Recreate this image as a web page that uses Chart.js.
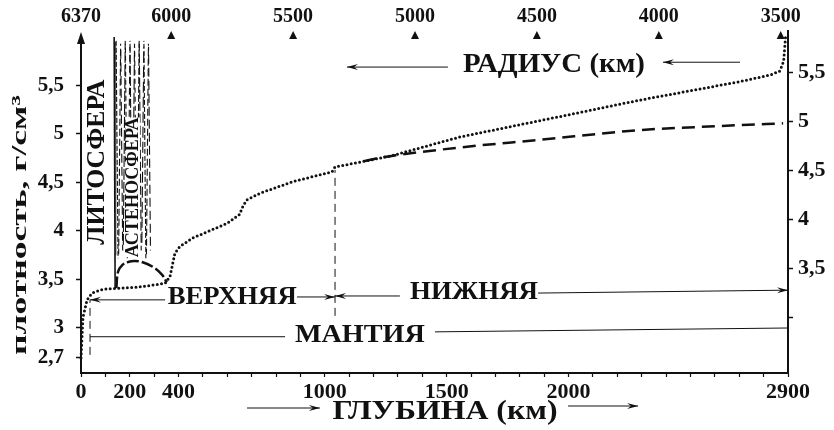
<!DOCTYPE html>
<html>
<head>
<meta charset="utf-8">
<script src="https://cdn.jsdelivr.net/npm/chart.js@4.4.1/dist/chart.umd.min.js"></script>
<style>
html, body { margin: 0; padding: 0; background: #fff; }
#wrap { width: 834px; height: 430px; }
</style>
</head>
<body>
<div id="wrap"><canvas id="densityChart"></canvas></div>
<script>
// плотность по глубине (точечная кривая)
var depthKm = [0, 8, 25, 45, 90, 148, 230, 345, 365, 385, 405, 460, 600, 650, 665, 680, 735, 870, 1030, 1042, 1145, 1280, 1555, 1965, 2293, 2703, 2830, 2867, 2882, 2890];
var densityMain = [2.69, 3.11, 3.29, 3.36, 3.40, 3.41, 3.42, 3.46, 3.53, 3.77, 3.84, 3.93, 4.08, 4.17, 4.26, 4.32, 4.39, 4.51, 4.61, 4.66, 4.71, 4.78, 4.97, 5.18, 5.35, 5.54, 5.61, 5.65, 5.75, 6.0];
// нижняя мантия, штриховая кривая
var depthLower = [1160, 1240, 1550, 1883, 2293, 2600, 2880];
var densityLower = [4.72, 4.76, 4.86, 4.94, 5.04, 5.08, 5.11];
// астеносфера (купол)
var depthAsth = [145, 152, 170, 193, 220, 250, 295, 332, 352];
var densityAsth = [3.41, 3.58, 3.65, 3.68, 3.69, 3.68, 3.63, 3.55, 3.47];

var depthTickLabels = [0, 200, 400, 1000, 1500, 2000, 2900];
var radiusTicks = [6370, 6000, 5500, 5000, 4500, 4000, 3500];
var densityTicksLeft = [2.7, 3, 3.5, 4, 4.5, 5, 5.5];
var densityTicksRight = [3, 3.5, 4, 4.5, 5, 5.5];

var EARTH_R = 6370;
var SERIF = '"Liberation Serif", "DejaVu Serif", serif';
var INK = '#111';

function pts(xs, ys) {
    return xs.map(function(x, i) { return { x: x, y: ys[i] }; });
}

function fitText(ctx, text, cx, cy, len, size, rot) {
    ctx.save();
    ctx.font = 'bold ' + size + 'px ' + SERIF;
    var w = ctx.measureText(text).width;
    ctx.translate(cx, cy);
    if (rot) ctx.rotate(-Math.PI / 2);
    ctx.scale(len / w, 1);
    ctx.textAlign = 'center';
    ctx.textBaseline = 'middle';
    ctx.fillStyle = INK;
    ctx.fillText(text, 0, 0);
    ctx.restore();
}

function arrow(ctx, x1, y1, x2, y2, head) {
    ctx.beginPath();
    ctx.moveTo(x1, y1);
    ctx.lineTo(x2, y2);
    ctx.stroke();
    if (!head) return;
    var a = Math.atan2(y2 - y1, x2 - x1);
    ctx.beginPath();
    ctx.moveTo(x2, y2);
    ctx.lineTo(x2 - 11 * Math.cos(a) + 3 * Math.sin(a), y2 - 11 * Math.sin(a) - 3 * Math.cos(a));
    ctx.lineTo(x2 - 7 * Math.cos(a), y2 - 7 * Math.sin(a));
    ctx.lineTo(x2 - 11 * Math.cos(a) - 3 * Math.sin(a), y2 - 11 * Math.sin(a) + 3 * Math.cos(a));
    ctx.closePath();
    ctx.fill();
}

var annotations = {
    id: 'annotations',
    afterDraw: function(chart) {
        var ctx = chart.ctx;
        var xs = chart.scales.x, ys = chart.scales.y, ca = chart.chartArea;
        var X = function(v) { return xs.getPixelForValue(v); };
        var Y = function(v) { return ys.getPixelForValue(v); };
        ctx.save();
        ctx.strokeStyle = INK;
        ctx.fillStyle = INK;

        // стрелка оси Y и продолжение правой оси
        ctx.beginPath();
        ctx.moveTo(ca.left, ca.top - 5);
        ctx.lineTo(ca.left - 4, ca.top + 7);
        ctx.lineTo(ca.left + 4, ca.top + 7);
        ctx.closePath();
        ctx.fill();
        ctx.lineWidth = 2;
        ctx.beginPath();
        ctx.moveTo(ca.right, ca.top);
        ctx.lineTo(ca.right, ca.top - 7);
        ctx.stroke();

        // треугольники радиуса
        radiusTicks.forEach(function(r) {
            if (r === EARTH_R) return;
            var px = X(EARTH_R - r);
            ctx.beginPath();
            ctx.moveTo(px, ca.top - 6);
            ctx.lineTo(px - 4, ca.top + 2);
            ctx.lineTo(px + 4, ca.top + 2);
            ctx.closePath();
            ctx.fill();
        });

        // литосфера
        ctx.lineWidth = 1.6;
        ctx.beginPath();
        ctx.moveTo(X(136), Y(6.0));
        ctx.lineTo(X(140), Y(3.41));
        ctx.stroke();
        ctx.lineWidth = 0.8;
        ctx.beginPath();
        ctx.moveTo(X(142), Y(5.95));
        ctx.lineTo(X(143), Y(3.75));
        ctx.stroke();

        // штриховка астеносферы
        ctx.lineWidth = 1.1;
        for (var i = 0; i < 15; i++) {
            var d = 148 + i * 9.5;
            ctx.setLineDash([5 + (i % 4) * 2, 2 + (i % 3)]);
            ctx.lineDashOffset = i * 5;
            ctx.beginPath();
            ctx.moveTo(X(d + (i % 2 ? 5 : -4)), Y(5.96 - (i % 3) * 0.03));
            ctx.lineTo(X(d + (i % 2 ? -3 : 4)), Y(3.72 + (i % 4) * 0.04));
            ctx.stroke();
        }
        ctx.setLineDash([]);
        // просвет под надписью
        ctx.fillStyle = '#fff';
        ctx.fillRect(X(213) - 7, Y(5.17), 14, Y(3.73) - Y(5.17));
        ctx.fillStyle = INK;

        // вертикальные пунктиры
        ctx.setLineDash([8, 5]);
        ctx.lineWidth = 1;
        ctx.beginPath();
        ctx.moveTo(X(1042), Y(4.63));
        ctx.lineTo(X(1042), Y(3.11));
        ctx.moveTo(X(37), Y(3.29));
        ctx.lineTo(X(37), Y(2.69));
        ctx.stroke();
        ctx.setLineDash([]);

        // стрелки мантии
        ctx.lineWidth = 1;
        arrow(ctx, X(345), Y(3.29), X(37), Y(3.29), true);
        arrow(ctx, X(886), Y(3.32), X(1042), Y(3.32), true);
        arrow(ctx, X(1308), Y(3.33), X(1042), Y(3.33), true);
        arrow(ctx, X(1875), Y(3.36), X(2900), Y(3.39), true);
        arrow(ctx, X(37), Y(2.91), X(837), Y(2.91), false);
        arrow(ctx, X(1452), Y(2.96), X(2900), Y(3.0), false);

        // стрелки радиуса и глубины
        arrow(ctx, X(1505), Y(5.69), X(1091), Y(5.69), true);
        arrow(ctx, X(2703), Y(5.74), X(2387), Y(5.74), true);
        arrow(ctx, X(681), ca.bottom + 35, X(980), ca.bottom + 35, true);
        arrow(ctx, X(1998), ca.bottom + 33, X(2285), ca.bottom + 33, true);

        // подписи
        fitText(ctx, 'ЛИТОСФЕРА', X(66), Y(4.71), 165, 26, true);
        fitText(ctx, 'АСТЕНОСФЕРА', X(213), Y(4.45), 140, 18, true);
        fitText(ctx, 'РАДИУС (км)', X(1940), Y(5.71), 182, 27, false);
        fitText(ctx, 'ВЕРХНЯЯ', X(620), Y(3.31), 129, 25, false);
        fitText(ctx, 'НИЖНЯЯ', X(1612), Y(3.37), 128, 25, false);
        fitText(ctx, 'МАНТИЯ', X(1144), Y(2.93), 130, 26, false);
        fitText(ctx, 'ГЛУБИНА (км)', X(1493), ca.bottom + 39, 225, 27, false);
        fitText(ctx, 'плотность, г/см³', 20, (ca.top + ca.bottom) / 2 + 20, 260, 22, true);
        ctx.restore();
    }
};

var tickFont = function(size) { return { family: SERIF, size: size, weight: 'bold' }; };
var axisGrid = { display: true, drawOnChartArea: false, drawTicks: true, tickLength: 5, tickColor: INK, tickWidth: 1.5 };
var axisBorder = { display: true, color: INK, width: 2 };

new Chart(document.getElementById('densityChart').getContext('2d'), {
    type: 'line',
    data: {
        datasets: [{
            data: pts(depthKm, densityMain),
            borderColor: INK,
            borderWidth: 3,
            borderDash: [0, 4.3],
            borderCapStyle: 'round',
            pointRadius: 0,
            tension: 0,
            clip: false
        }, {
            data: pts(depthLower, densityLower),
            borderColor: INK,
            borderWidth: 2.5,
            borderDash: [13, 7],
            pointRadius: 0,
            cubicInterpolationMode: 'monotone'
        }, {
            data: pts(depthAsth, densityAsth),
            borderColor: INK,
            borderWidth: 2.5,
            borderDash: [12, 3],
            pointRadius: 0,
            tension: 0.4
        }]
    },
    options: {
        responsive: true,
        maintainAspectRatio: false,
        animation: false,
        layout: { padding: 0 },
        plugins: { legend: { display: false }, tooltip: { enabled: false } },
        scales: {
            x: {
                type: 'linear', position: 'bottom', min: 0, max: 2900,
                afterBuildTicks: function(s) {
                    var t = [];
                    for (var v = 0; v <= 2900; v += 100) t.push({ value: v });
                    s.ticks = t;
                },
                afterFit: function(s) { s.height = 57; },
                ticks: {
                    autoSkip: false, maxRotation: 0, padding: 2, color: INK, font: tickFont(22),
                    callback: function(v) { return depthTickLabels.indexOf(v) >= 0 ? String(v) : ''; }
                },
                grid: { display: true, drawOnChartArea: false, drawTicks: true, tickLength: 4, tickColor: INK, tickWidth: 1.2 },
                border: axisBorder
            },
            xTop: {
                type: 'linear', position: 'top', min: 0, max: 2900,
                afterBuildTicks: function(s) {
                    s.ticks = radiusTicks.map(function(r) { return { value: EARTH_R - r }; });
                },
                afterFit: function(s) { s.height = 37; },
                ticks: {
                    autoSkip: false, maxRotation: 0, padding: 8, color: INK, font: tickFont(20),
                    callback: function(v) { return String(EARTH_R - v); }
                },
                grid: { display: false, drawTicks: false },
                border: { display: false }
            },
            y: {
                type: 'linear', position: 'left', min: 2.536, max: 6.0,
                afterBuildTicks: function(s) {
                    s.ticks = densityTicksLeft.map(function(v) { return { value: v }; });
                },
                afterFit: function(s) { s.width = 81; },
                ticks: {
                    padding: 12, color: INK, font: tickFont(21),
                    callback: function(v) { return String(v).replace('.', ','); }
                },
                grid: axisGrid,
                border: axisBorder
            },
            yRight: {
                type: 'linear', position: 'right', min: 2.43, max: 5.857,
                afterBuildTicks: function(s) {
                    s.ticks = densityTicksRight.map(function(v) { return { value: v }; });
                },
                afterFit: function(s) { s.width = 46; },
                ticks: {
                    padding: 5, color: INK, font: tickFont(22),
                    callback: function(v) { return v === 3 ? '' : String(v).replace('.', ','); }
                },
                grid: axisGrid,
                border: axisBorder
            }
        }
    },
    plugins: [annotations]
});
</script>
</body>
</html>
